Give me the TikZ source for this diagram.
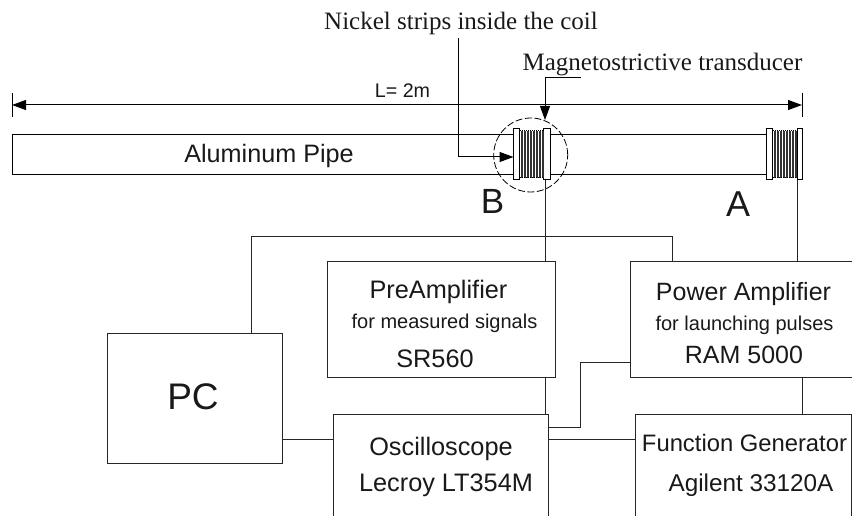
\documentclass[tikz,border=0pt]{standalone}
\usepackage{fontspec}
\setmainfont{Liberation Sans}
\newfontfamily\serifcap{Liberation Serif}
\usetikzlibrary{arrows.meta}
\tikzset{
  x=1pt,y=-1pt,
  wire/.style={draw=black!85,line width=1pt},
  boxn/.style={draw=black!85,line width=1pt,rectangle,inner sep=0pt,fill=none},
  lbl/.style={inner sep=0pt,anchor=base,text=black!90},
  tip/.style={-{Triangle[length=14pt,width=10pt]}},
  flange/.style={draw=black,line width=1pt,fill=white,rectangle,inner sep=0pt,minimum width=6.5pt,minimum height=51pt},
}
\newcommand{\boxat}[5]{\node[boxn,minimum width=#4-#2,minimum height=#5-#3] (#1) at ({(#2+#4)/2},{(#3+#5)/2}) {};}
\begin{document}
\begin{tikzpicture}[line cap=butt]
\useasboundingbox (0,0) rectangle (852,516);
\clip (0,0) rectangle (852,516);
% pipe
\node[draw=black,line width=1pt,rectangle,inner sep=0pt,minimum width=754pt,minimum height=40pt] (pipe) at (389,155) {};
\fill[white] (767,134) rectangle (800,176);
% coil B
\node[flange] (bl) at (516.7,154.5) {};
\node[flange] (br) at (546.8,154.5) {};
\node[inner sep=0pt,minimum width=24pt,minimum height=46pt,fill=white] (bc) at (532,154.5) {};
\foreach \x in {522,525,528,531,534,537,540,543}{\draw[line width=1.3pt,black!80] (\x,131) -- (\x,178);}
\draw[line width=1pt,dash pattern=on 1pt off 1pt] (520,131) -- (544,131) (520,178) -- (544,178);
% coil A
\node[flange] (al) at (769.5,154.5) {};
\node[flange,minimum width=5pt] (ar) at (799.5,154.5) {};
\foreach \x in {775,778,781,784,787,790,793,796}{\draw[line width=1.3pt,black!80] (\x,131) -- (\x,178);}
\draw[line width=1pt,dash pattern=on 1pt off 1pt] (773,131) -- (797,131) (773,178) -- (797,178);
% dashed circle
\node[draw=black,line width=.8pt,dash pattern=on 7pt off 2.5pt,circle,inner sep=0pt,minimum size=74pt] (circ) at (530.7,155) {};
% dimension
\coordinate (dl) at (12,105); \coordinate (dr) at (802,105);
\draw[line width=1pt] (12,93) -- (12,117) (802,93) -- (802,117);
\draw[line width=1pt,{Triangle[length=14pt,width=10pt]}-{Triangle[length=14pt,width=10pt]}] (dl) -- (dr);
% boxes
\boxat{pre}{327.5}{261.5}{555}{377}
\boxat{pow}{630}{261.5}{860}{377}
\boxat{osc}{333}{414}{548}{530}
\boxat{fg}{635}{414}{851}{530}
\boxat{pc}{107}{333}{282}{463}
% connectors
\coordinate (cbd) at (545,180); \coordinate (cad) at (797,180);
\draw[wire] (cbd) -- (cbd |- pre.north);
\draw[wire] (cad) -- (cad |- pow.north);
\coordinate (t1) at (251,333); \coordinate (t2) at (672,262);
\draw[wire] (t1) -- (251,236) -- (672,236) -- (t2);
\draw[wire] (545,377) -- (545,414);
\coordinate (p1) at (630,362); \coordinate (o1) at (548,427.5);
\draw[wire] (p1) -- (580,362) -- (580,427.5) -- (o1);
\coordinate (o2) at (548,439); \coordinate (f2) at (635,439);
\draw[wire] (o2) -- (f2);
\coordinate (p2) at (802,377); \coordinate (f3) at (802,414);
\draw[wire] (p2) -- (f3);
\coordinate (pc1) at (282,439); \coordinate (o3) at (333,439);
\draw[wire] (pc1) -- (o3);
% callouts
\coordinate (mt) at (581,78); \coordinate (mc) at (545,120);
\draw[line width=1pt,tip] (mt) -- (545,78) -- (mc);
\coordinate (nt) at (458,38); \coordinate (nc) at (513.5,157);
\draw[line width=1pt,tip] (nt) -- (458,157) -- (nc);
% labels
\node[lbl] (t0) at (461,30) {\serifcap\fontsize{25}{25}\selectfont Nickel strips inside the coil};
\node[lbl] (t3) at (662.5,70.5) {\serifcap\fontsize{25}{25}\selectfont Magnetostrictive transducer};
\node[lbl] (l) at (402.5,98) {\fontsize{19.7}{20}\selectfont L= 2m};
\node[lbl] (ap) at (269,163) {\fontsize{25.2}{26}\selectfont Aluminum Pipe};
\node[lbl] (b) at (492.5,213) {\fontsize{35}{35}\selectfont B};
\node[lbl] (a) at (738,217) {\fontsize{36}{36}\selectfont A};
\node[lbl] (a1) at (438.5,298) {\fontsize{25.3}{25}\selectfont PreAmplifier};
\node[lbl] (a2) at (444.5,328) {\fontsize{20}{20}\selectfont for measured signals};
\node[lbl] (a3) at (435,367) {\fontsize{25.3}{25}\selectfont SR560};
\node[lbl] (b1) at (743.5,300) {\fontsize{25}{25}\selectfont Power Amplifier};
\node[lbl] (b2) at (744.5,330) {\fontsize{20}{20}\selectfont for launching pulses};
\node[lbl] (b3) at (744,363) {\fontsize{25}{25}\selectfont RAM 5000};
\node[lbl] (pct) at (193,409) {\fontsize{37}{37}\selectfont PC};
\node[lbl] (c1) at (441,455) {\fontsize{25.3}{25}\selectfont Oscilloscope};
\node[lbl] (c2) at (446,491) {\fontsize{25.3}{25}\selectfont Lecroy LT354M};
\node[lbl] (d1) at (744.5,451) {\fontsize{23.8}{24}\selectfont Function Generator};
\node[lbl] (d2) at (751,491) {\fontsize{24.3}{25}\selectfont Agilent 33120A};
\end{tikzpicture}
\end{document}
